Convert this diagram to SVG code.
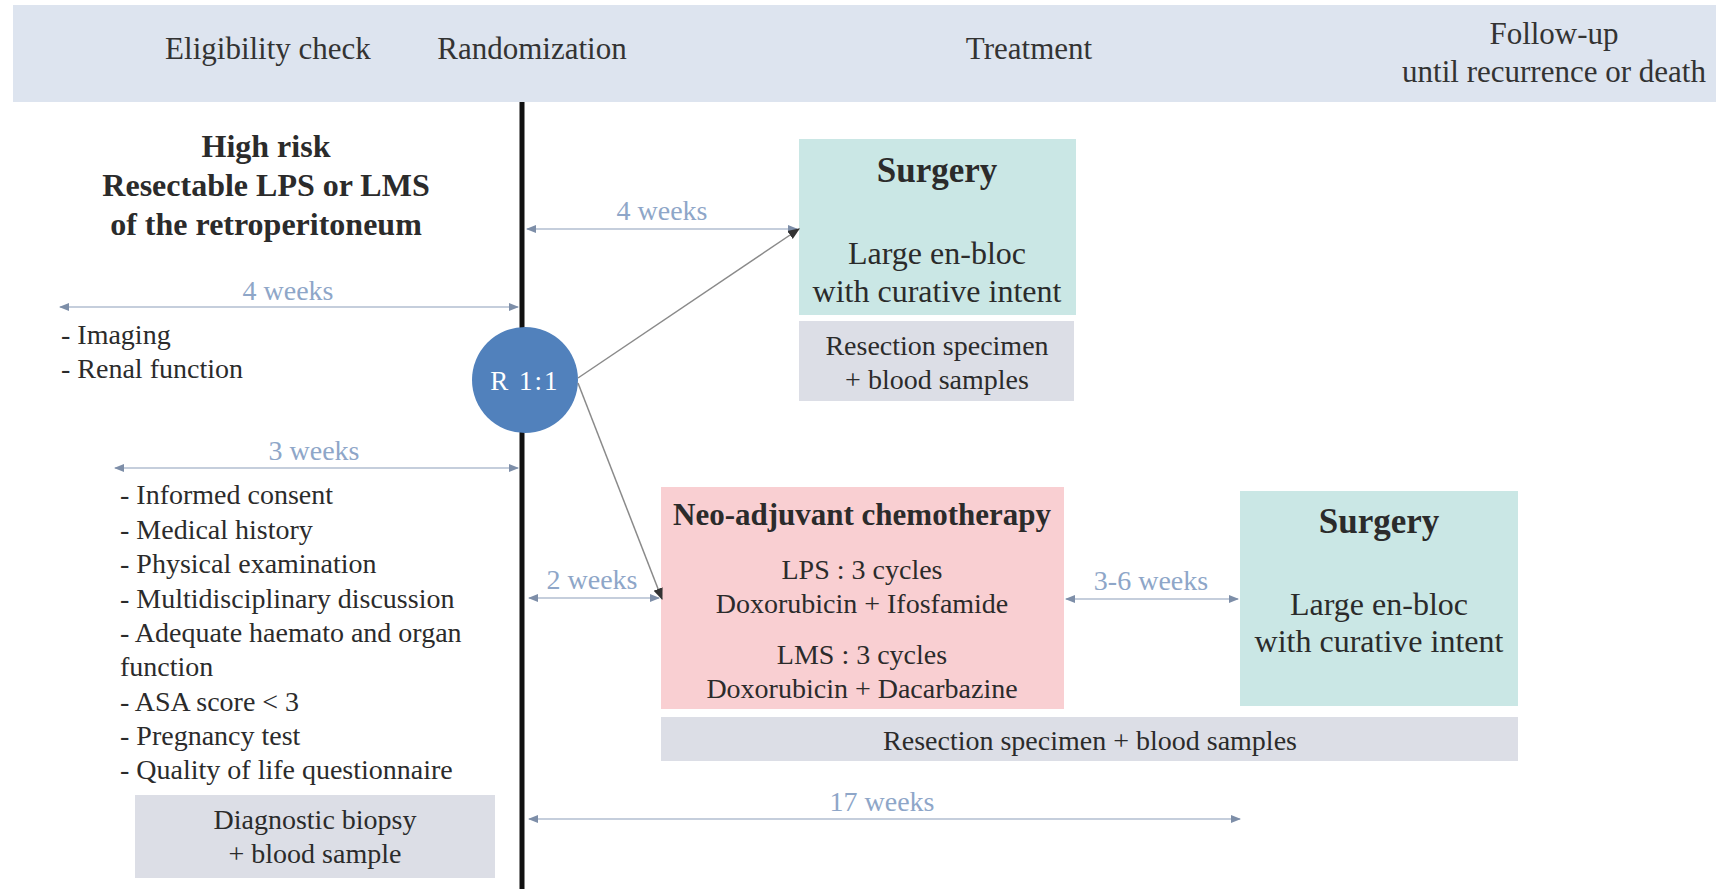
<svg xmlns="http://www.w3.org/2000/svg" width="1716" height="889" viewBox="0 0 1716 889" font-family="'Liberation Serif', 'DejaVu Serif', serif">
<defs>
<style>
text{font-family:'Liberation Serif','DejaVu Serif',serif;fill:#2b2b2b}
.hdr{font-size:31px;fill:#333;text-anchor:middle}
.b{font-weight:bold}
.c{text-anchor:middle}
.wk{font-size:28px;fill:#8ea6c8;text-anchor:middle}
.li{font-size:28px}
.bx{font-size:32px}
.dim{stroke:#c5cedc;stroke-width:2;fill:none;marker-start:url(#ms);marker-end:url(#me)}
.flow{stroke:#8a8a8a;stroke-width:1.5;fill:none;marker-end:url(#mf)}
</style>
<marker id="me" viewBox="0 0 10 10" refX="9" refY="5" markerWidth="5" markerHeight="5" orient="auto" markerUnits="strokeWidth"><path d="M0,1 L10,5 L0,9 z" fill="#7d8ea8"/></marker>
<marker id="ms" viewBox="0 0 10 10" refX="1" refY="5" markerWidth="5" markerHeight="5" orient="auto" markerUnits="strokeWidth"><path d="M10,1 L0,5 L10,9 z" fill="#7d8ea8"/></marker>
<marker id="mf" viewBox="0 0 10 10" refX="9" refY="5" markerWidth="8" markerHeight="8" orient="auto" markerUnits="strokeWidth"><path d="M0,1 L10,5 L0,9 z" fill="#333"/></marker>
</defs>
<rect x="0" y="0" width="1716" height="889" fill="#fff"/>
<g id="header">
<rect x="13" y="5" width="1703" height="97" fill="#dde4ef"/>
<text class="hdr" x="268" y="59">Eligibility check</text>
<text class="hdr" x="532" y="59">Randomization</text>
<text class="hdr" x="1029" y="59">Treatment</text>
<text class="hdr" x="1554" y="44">Follow-up</text>
<text class="hdr" x="1554" y="82">until recurrence or death</text>
</g>
<g id="timeline">
<line x1="522" y1="102" x2="522" y2="889" stroke="#111" stroke-width="5"/>
</g>
<g id="eligibility">
<text class="c b" x="266" y="157" font-size="32">High risk</text>
<text class="c b" x="266" y="196" font-size="32">Resectable LPS or LMS</text>
<text class="c b" x="266" y="235" font-size="32">of the retroperitoneum</text>
<text class="li" x="61" y="344">- Imaging</text>
<text class="li" x="61" y="378">- Renal function</text>
<text class="li" x="120" y="504">- Informed consent</text>
<text class="li" x="120" y="539">- Medical history</text>
<text class="li" x="120" y="573">- Physical examination</text>
<text class="li" x="120" y="608">- Multidisciplinary discussion</text>
<text class="li" x="120" y="642">- Adequate haemato and organ</text>
<text class="li" x="120" y="676">function</text>
<text class="li" x="120" y="711">- ASA score &lt; 3</text>
<text class="li" x="120" y="745">- Pregnancy test</text>
<text class="li" x="120" y="779">- Quality of life questionnaire</text>
</g>
<g id="biopsy">
<rect x="135" y="795" width="360" height="83" fill="#dcdee6"/>
<text class="c li" x="315" y="829">Diagnostic biopsy</text>
<text class="c li" x="315" y="863">+ blood sample</text>
</g>
<g id="randomization">
<circle cx="525" cy="380" r="53" fill="#5181bc"/>
<text class="c" x="525" y="390" font-size="27" letter-spacing="2" style="fill:#fff">R 1:1</text>
</g>
<g id="surgery1">
<rect x="799" y="139" width="277" height="176" fill="#cae7e5"/>
<text class="c b" x="937" y="182" font-size="35">Surgery</text>
<text class="c bx" x="937" y="264">Large en-bloc</text>
<text class="c bx" x="937" y="302">with curative intent</text>
</g>
<g id="resection1">
<rect x="799" y="321" width="275" height="80" fill="#dcdee6"/>
<text class="c li" x="937" y="355">Resection specimen</text>
<text class="c li" x="937" y="389">+ blood samples</text>
</g>
<g id="chemo">
<rect x="661" y="487" width="403" height="222" fill="#f9cfd2"/>
<text class="c b" x="862" y="525" font-size="31">Neo-adjuvant chemotherapy</text>
<text class="c li" x="862" y="579">LPS : 3 cycles</text>
<text class="c li" x="862" y="613">Doxorubicin + Ifosfamide</text>
<text class="c li" x="862" y="664">LMS : 3 cycles</text>
<text class="c li" x="862" y="698">Doxorubicin + Dacarbazine</text>
</g>
<g id="surgery2">
<rect x="1240" y="491" width="278" height="215" fill="#cae7e5"/>
<text class="c b" x="1379" y="533" font-size="35">Surgery</text>
<text class="c bx" x="1379" y="615">Large en-bloc</text>
<text class="c bx" x="1379" y="652">with curative intent</text>
</g>
<g id="resection2">
<rect x="661" y="717" width="857" height="44" fill="#dcdee6"/>
<text class="c li" x="1090" y="750">Resection specimen + blood samples</text>
</g>
<g id="connectors">
<path class="dim" d="M60,307 H518"/>
<path class="dim" d="M115,468 H518"/>
<path class="dim" d="M527,229 H797"/>
<path class="dim" d="M529,598 H659"/>
<path class="dim" d="M1066,599 H1238"/>
<path class="dim" d="M529,819 H1240"/>
<path class="flow" d="M578,378 L799,229"/>
<path class="flow" d="M578,383 L662,599"/>
</g>
<g id="labels">
<text class="wk" x="288" y="300">4 weeks</text>
<text class="wk" x="314" y="460">3 weeks</text>
<text class="wk" x="662" y="220">4 weeks</text>
<text class="wk" x="592" y="589">2 weeks</text>
<text class="wk" x="1151" y="590">3-6 weeks</text>
<text class="wk" x="882" y="811">17 weeks</text>
</g>
</svg>
